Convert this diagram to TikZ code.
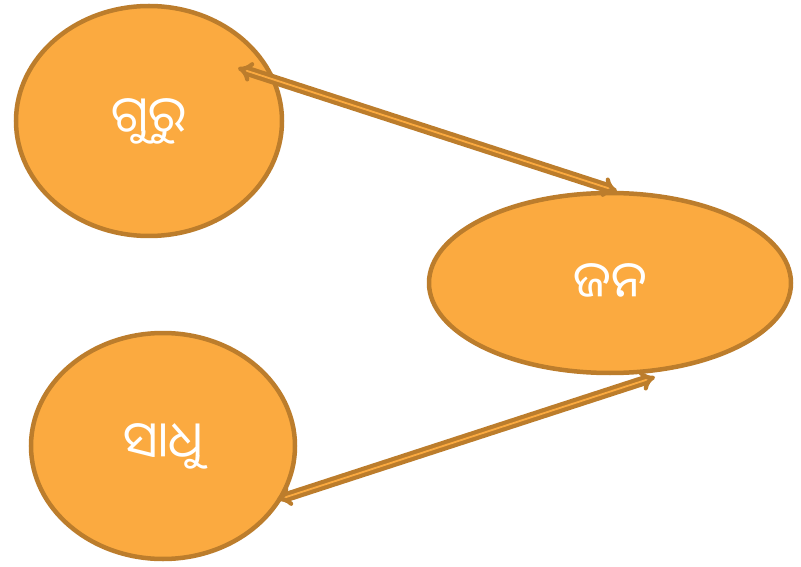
\documentclass[tikz,border=0pt]{standalone}
\usepackage{fontspec}
\newfontfamily\oriya[Script=Oriya]{Noto Sans Oriya UI}
\usetikzlibrary{shapes.geometric,arrows.meta}
\definecolor{fillor}{HTML}{FBAA40}
\definecolor{edgeor}{HTML}{BC7D2C}
\tikzset{
  blob/.style={ellipse, draw=edgeor, fill=fillor, line width=4.5pt, inner sep=0pt, text=white, font=\oriya\fontsize{50}{58}\selectfont},
  link/.style={draw=edgeor, line width=4.2pt, double=fillor, double distance=1.8pt, {Implies[length=11pt,width=20pt]}-{Implies[length=11pt,width=20pt]}}
}
\begin{document}
\begin{tikzpicture}[x=1pt,y=1pt]
\useasboundingbox (0,0) rectangle (801,566);
\node[blob, minimum width=266pt, minimum height=230pt] (guru) at (149,445) {ଗୁରୁ};
\node[blob, minimum width=362pt, minimum height=180pt] (jana) at (610,283) {ଜନ};
\node[blob, minimum width=264pt, minimum height=226pt] (sadhu) at (163,120) {ସାଧୁ};
\coordinate (g1) at (238,498);
\coordinate (j1) at (617,375);
\coordinate (s1) at (277,66);
\coordinate (j2) at (655,189);
\draw[link] (g1) -- (j1);
\draw[link] (s1) -- (j2);
\end{tikzpicture}
\end{document}
